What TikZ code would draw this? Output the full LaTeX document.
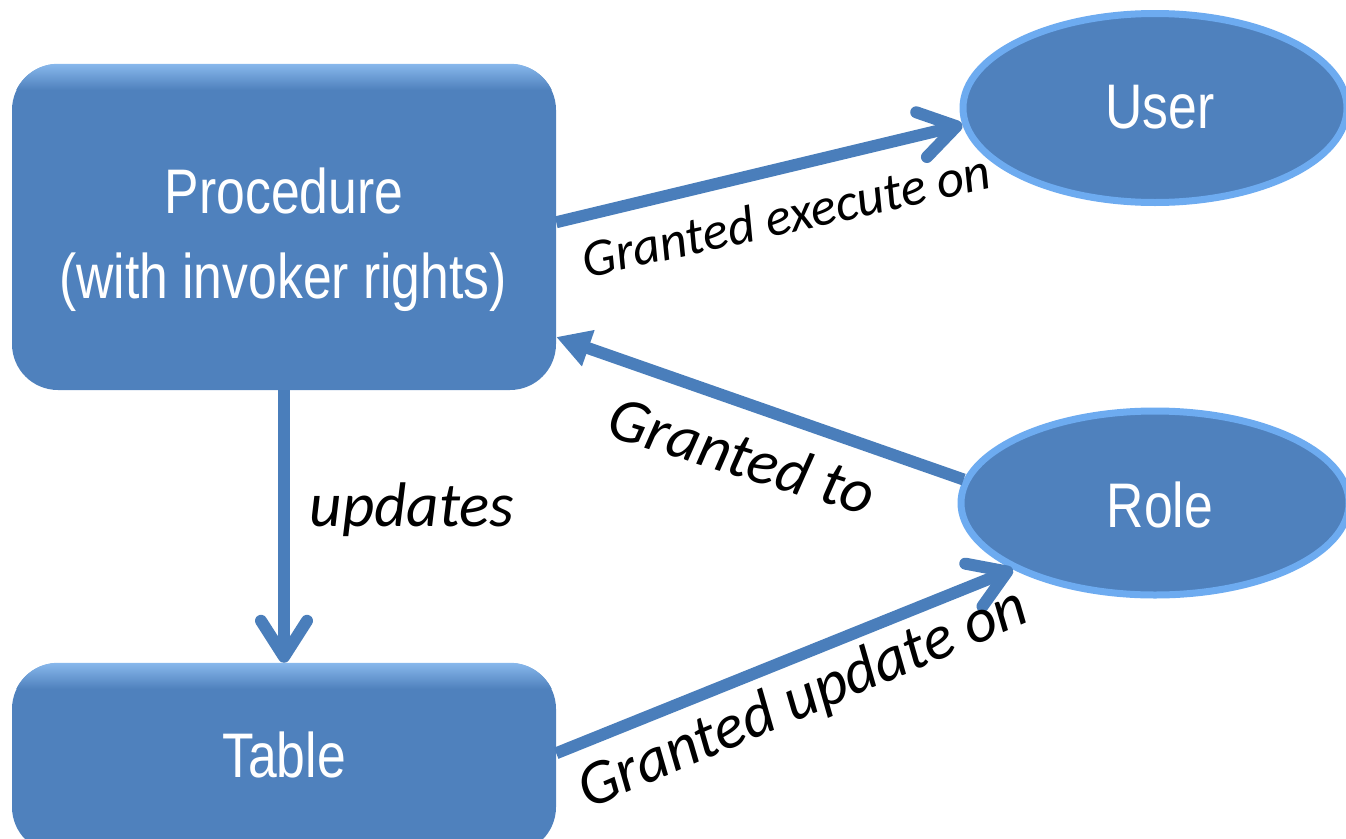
\documentclass[tikz,border=0pt]{standalone}
\usepackage{fontspec}
\usetikzlibrary{arrows.meta,shapes.geometric,calc}
\newfontfamily\boxfont{Liberation Sans}[FakeStretch=0.82]
\newfontfamily\lblfont{Carlito}
\definecolor{boxblue}{HTML}{4F81BD}
\definecolor{rimblue}{HTML}{6DABF0}
\definecolor{topglow}{HTML}{88B8EC}
\definecolor{arrowblue}{HTML}{4A7EBB}

\begin{document}
\begin{tikzpicture}[x=1pt,y=-1pt,
  box/.style={rectangle, rounded corners=46pt, fill=boxblue, inner sep=0pt},
  oval/.style={ellipse, fill=boxblue, draw=rimblue, line width=7pt, inner sep=0pt},
  boxtext/.style={text=white, anchor=base, inner sep=0pt,
    font=\boxfont\fontsize{63}{70}\selectfont},
  link/.style={draw=arrowblue, line width=12pt},
  barb/.style={-{Straight Barb[length=36pt,width=46pt,round]}},
  solidtip/.style={-{Triangle[length=34pt,width=36pt]}},
  lbl/.style={anchor=base, inner sep=0pt, font=\lblfont\itshape\fontsize{63}{70}\selectfont},
  smalllbl/.style={lbl, font=\lblfont\itshape\fontsize{53}{60}\selectfont},
]
\useasboundingbox (0,0) rectangle (1346,838);
\clip (0,0) rectangle (1346,838);

% rounded boxes
\node[box, minimum width=544pt, minimum height=326pt] (proc) at (284,227) {};
\node[box, minimum width=544pt, minimum height=190pt] (table) at (284,758) {};

% soft light band along the top edge of each box
\begin{scope}
  \clip[rounded corners=46pt] (proc.north west) rectangle (proc.south east);
  \shade[top color=topglow, bottom color=boxblue]
    (proc.north west) rectangle ($(proc.north east)+(0,26)$);
\end{scope}
\begin{scope}
  \clip[rounded corners=46pt] (table.north west) rectangle (table.south east);
  \shade[top color=topglow, bottom color=boxblue]
    (table.north west) rectangle ($(table.north east)+(0,26)$);
\end{scope}

% ellipses
\node[oval, minimum width=384pt, minimum height=189pt] (user) at (1155,108) {};
\node[oval, minimum width=388pt, minimum height=184pt] (role) at (1155,503) {};

% node captions
\node[boxtext] (proct1) at (284,213) {Procedure};
\node[boxtext] (proct2) at (283,298) {(with invoker rights)};
\node[boxtext] (tablet) at (284,777) {Table};
\node[boxtext] (usert) at (1160,128) {User};
\node[boxtext] (rolet) at (1160,527) {Role};

% connectors
\draw[link, barb] (proc.1) -- (user.185);
\draw[link, solidtip] (role.173) -- (proc.-22);
\draw[link, barb] (proc.south) -- (table.north);
\draw[link, barb] (table.1) -- (role.205);

% connector labels
\node[smalllbl, rotate=12.5] (lexec) at (790,233) {Granted execute on};
\node[lbl, rotate=-17] (lto) at (736,476) {Granted to};
\node[lbl] (lupd) at (412,526) {updates};
\node[lbl, rotate=23] (lupdon) at (810,715) {Granted update on};
\end{tikzpicture}
\end{document}
